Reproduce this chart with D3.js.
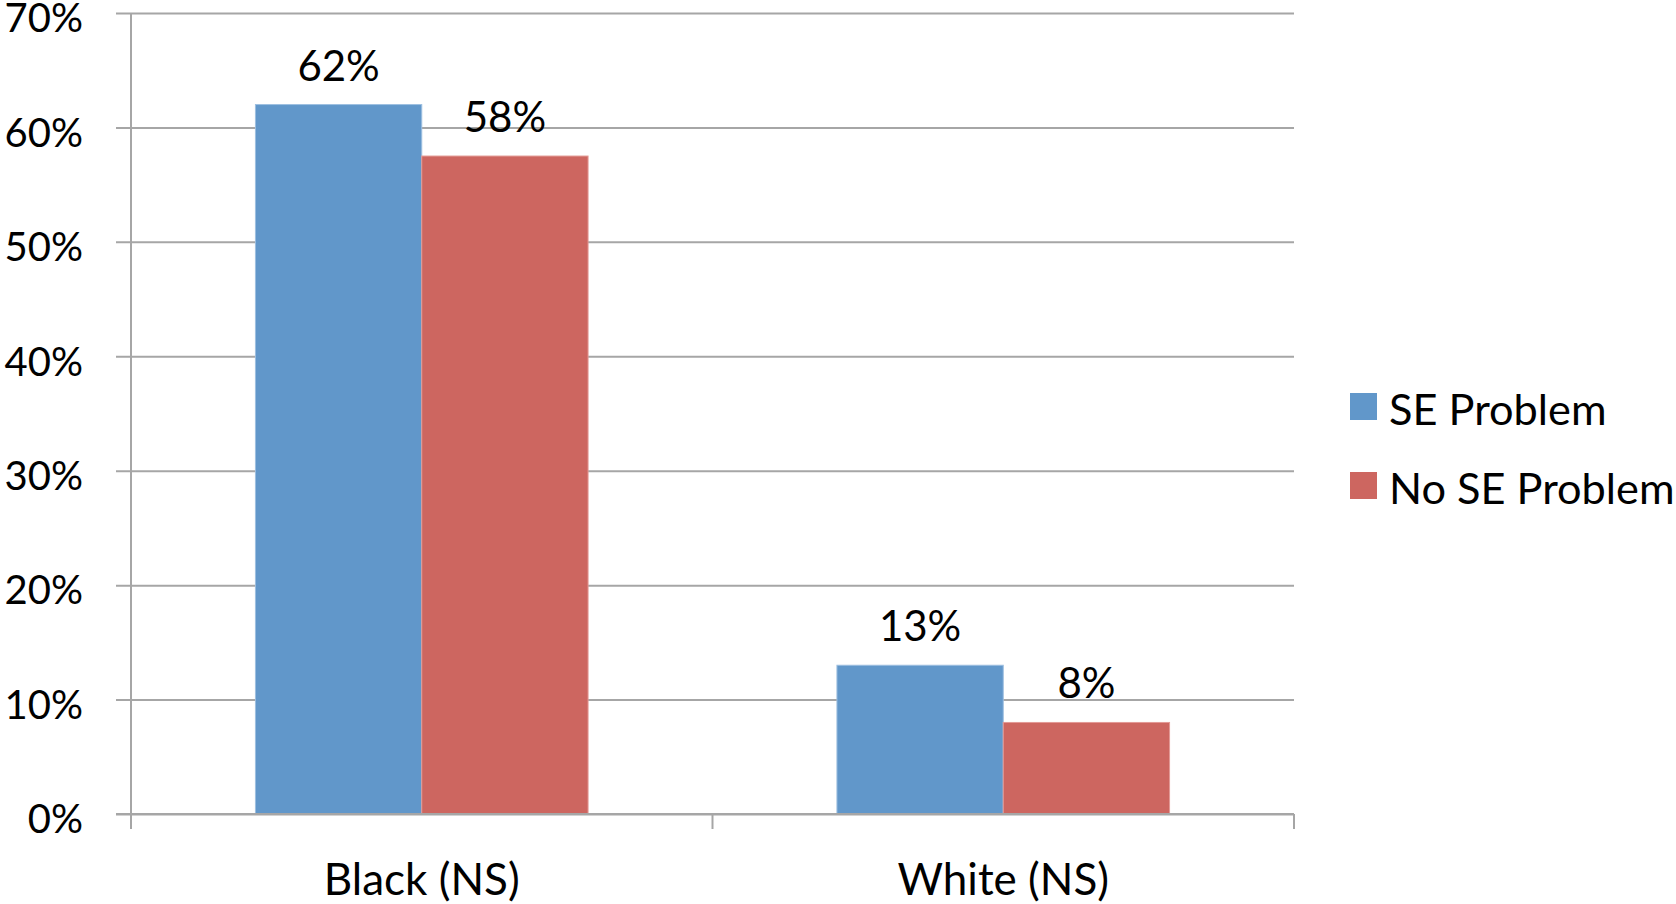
<!DOCTYPE html>
<html>
<head>
<meta charset="utf-8">
<script src="https://cdn.jsdelivr.net/npm/d3@7"></script>
<style>
  html, body { margin: 0; padding: 0; background: #fff; }
  svg { display: block; }
  text { font-family: Lato, "Open Sans", sans-serif; fill: #000; }
</style>
</head>
<body>
<svg id="chart" width="1676" height="904"></svg>
<script>
// Share of respondents by group
const categories = ["Black (NS)", "White (NS)"];
const seriesNames = ["SE Problem", "No SE Problem"];
const seProblem = [0.62, 0.13];
const noSeProblem = [0.575, 0.08];
const yTicks = [0, 0.1, 0.2, 0.3, 0.4, 0.5, 0.6, 0.7];
const colors = ["#6197CA", "#CD6660"];

const series = [seProblem, noSeProblem];

const svg = d3.select("#chart");
const margin = { left: 131, right: 382, top: 13, bottom: 90 };
const W = 1676, H = 904;
const plotW = W - margin.left - margin.right;
const plotH = H - margin.top - margin.bottom;
const fontSize = 44;

const g = svg.append("g").attr("transform", `translate(${margin.left},${margin.top})`);

const x0 = d3.scaleBand().domain(categories).range([0, plotW]).paddingInner(0).paddingOuter(0);
const groupPad = 0.428;
const x1 = d3.scaleBand().domain(seriesNames)
  .range([x0.bandwidth() * groupPad / 2, x0.bandwidth() * (1 - groupPad / 2)]);
const y = d3.scaleLinear().domain([0, 0.7]).range([plotH, 0]);

const gridColor = "#A6A6A6";

// horizontal gridlines with left tick stubs
const yAxis = d3.axisLeft(y).tickValues(yTicks).tickFormat(d3.format(".0%"))
  .tickSize(-(plotW + 15)).tickPadding(36);
const ya = g.append("g").attr("transform", "translate(-15,0)").call(yAxis);
ya.select(".domain").remove();
ya.selectAll(".tick line").attr("stroke", gridColor).attr("stroke-width", 2)
  .attr("x1", 0).attr("x2", plotW + 15);
ya.selectAll(".tick text").attr("font-size", 40).attr("dy", "0.47em")
  .attr("x", -33).style("font-family", "Lato, sans-serif");

// vertical axis line
g.append("line").attr("x1", 0).attr("x2", 0).attr("y1", 0).attr("y2", plotH)
  .attr("stroke", gridColor).attr("stroke-width", 2);

// bars
const groups = g.selectAll("g.cat").data(categories).join("g")
  .attr("class", "cat").attr("transform", d => `translate(${x0(d)},0)`);

groups.each(function (cat, ci) {
  const sel = d3.select(this);
  seriesNames.forEach((s, si) => {
    const v = series[si][ci];
    sel.append("rect")
      .attr("x", x1(s)).attr("width", x1.bandwidth())
      .attr("y", y(v)).attr("height", y(0) - y(v))
      .attr("fill", colors[si])
      .attr("stroke", si === 0 ? "#9DBFE0" : "#E39A95").attr("stroke-width", 1);
    sel.append("text")
      .attr("x", x1(s) + x1.bandwidth() / 2)
      .attr("y", y(v) - 24)
      .attr("text-anchor", "middle")
      .attr("font-size", 42)
      .text(Math.round(v * 1000 / 10) + "%");
  });
});

// baseline and category ticks
const xAxis = d3.axisBottom(x0).tickSize(0).tickPadding(0);
const xa = g.append("g").attr("transform", `translate(0,${plotH})`).call(xAxis);
xa.select(".domain").remove();
xa.selectAll(".tick text").attr("font-size", fontSize).attr("y", 81).attr("dy", 0)
  .style("font-family", "Lato, sans-serif");

g.append("line").attr("x1", -15).attr("x2", plotW).attr("y1", plotH).attr("y2", plotH)
  .attr("stroke", gridColor).attr("stroke-width", 2);
const boundaries = [0, ...categories.map(c => x0(c) + x0.bandwidth())];
g.selectAll("line.cattick").data(boundaries).join("line")
  .attr("class", "cattick")
  .attr("x1", d => d).attr("x2", d => d)
  .attr("y1", plotH).attr("y2", plotH + 15)
  .attr("stroke", gridColor).attr("stroke-width", 2);

// legend
const legend = svg.append("g").attr("transform", "translate(1350,393)");
seriesNames.forEach((s, i) => {
  const row = legend.append("g").attr("transform", `translate(0,${i * 79})`);
  row.append("rect").attr("width", 27).attr("height", 27).attr("fill", colors[i]);
  row.append("text").attr("x", 39).attr("y", 32).attr("font-size", 43.3).text(s);
});
</script>
</body>
</html>
